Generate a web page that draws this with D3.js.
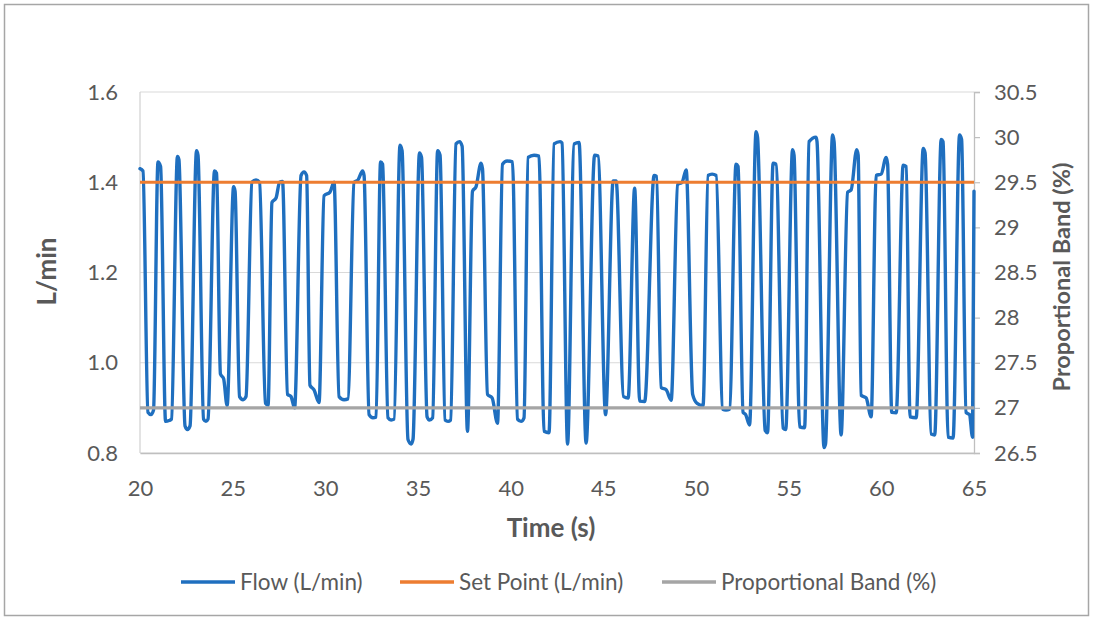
<!DOCTYPE html>
<html>
<head>
<meta charset="utf-8">
<script src="https://cdn.jsdelivr.net/npm/d3@7/dist/d3.min.js"></script>
<style>
  html, body { margin: 0; padding: 0; background: #fff; }
  svg { display: block; }
  text { font-family: Lato, "Open Sans", sans-serif; fill: #595959; }
</style>
</head>
<body>
<svg id="chart" width="1093" height="620"></svg>
<script>
// Flow readings (time in s, flow in L/min)
const flowTime = [
  20.00, 20.16, 20.43, 20.59, 20.73, 20.97, 21.11, 21.38, 21.57, 21.70,
  22.02, 22.10, 22.43, 22.56, 22.70, 23.05, 23.13, 23.43, 23.56, 23.67,
  24.02, 24.13, 24.34, 24.51, 24.70, 25.05, 25.13, 25.37, 25.56, 25.72,
  26.04, 26.26, 26.45, 26.77, 26.91, 27.12, 27.34, 27.53, 27.69, 27.96,
  28.15, 28.34, 28.69, 28.85, 28.99, 29.17, 29.39, 29.66, 29.93, 30.25,
  30.47, 30.74, 31.01, 31.22, 31.55, 31.76, 32.01, 32.09, 32.36, 32.57,
  32.74, 32.98, 33.09, 33.38, 33.55, 33.71, 34.03, 34.14, 34.46, 34.63,
  34.73, 35.08, 35.19, 35.49, 35.62, 35.79, 36.06, 36.19, 36.46, 36.62,
  36.76, 37.05, 37.24, 37.38, 37.67, 37.94, 38.13, 38.40, 38.48, 38.75,
  39.00, 39.29, 39.56, 39.81, 40.10, 40.37, 40.56, 40.72, 40.94, 41.26,
  41.53, 41.80, 42.07, 42.34, 42.67, 42.77, 43.07, 43.42, 43.69, 44.07,
  44.53, 44.72, 45.12, 45.53, 45.69, 46.09, 46.34, 46.69, 46.96, 47.23,
  47.74, 47.87, 48.12, 48.39, 48.66, 49.01, 49.25, 49.47, 49.82, 50.06,
  50.38, 50.65, 50.87, 51.09, 51.44, 51.62, 51.81, 52.16, 52.27, 52.54,
  52.68, 52.89, 53.24, 53.32, 53.73, 53.86, 54.16, 54.32, 54.70, 54.84,
  55.21, 55.29, 55.59, 55.86, 56.10, 56.48, 56.53, 56.91, 56.99, 57.37,
  57.45, 57.83, 58.18, 58.37, 58.67, 58.75, 58.91, 59.18, 59.45, 59.72,
  59.99, 60.26, 60.34, 60.56, 60.80, 61.18, 61.34, 61.55, 61.88, 62.26,
  62.36, 62.69, 62.88, 63.23, 63.33, 63.60, 63.87, 64.22, 64.33, 64.57,
  64.76, 64.92, 65.00
];
const flowValue = [
  1.430, 1.425, 0.890, 0.885, 0.895, 1.445, 1.435, 0.870, 0.872, 0.875,
  1.457, 1.450, 0.860, 0.852, 0.860, 1.470, 1.460, 0.875, 0.870, 0.875,
  1.425, 1.420, 0.975, 0.965, 0.905, 1.390, 1.380, 0.925, 0.918, 0.925,
  1.400, 1.405, 1.400, 0.910, 0.906, 1.355, 1.365, 1.400, 1.402, 0.930,
  0.925, 0.900, 1.415, 1.423, 1.415, 0.950, 0.940, 0.912, 1.370, 1.378,
  1.400, 0.925, 0.918, 0.920, 1.400, 1.405, 1.425, 1.415, 0.885, 0.878,
  0.880, 1.445, 1.440, 0.878, 0.873, 0.875, 1.482, 1.470, 0.830, 0.820,
  0.830, 1.465, 1.455, 0.880, 0.873, 0.878, 1.470, 1.460, 0.873, 0.870,
  0.873, 1.485, 1.490, 1.480, 0.848, 1.380, 1.390, 1.442, 1.430, 0.930,
  0.922, 0.866, 1.440, 1.447, 1.445, 0.875, 0.870, 0.878, 1.455, 1.460,
  1.458, 0.848, 0.845, 1.485, 1.490, 1.487, 0.820, 1.485, 1.488, 0.822,
  1.460, 1.458, 0.885, 1.403, 1.403, 0.925, 0.922, 1.387, 0.915, 0.914,
  1.415, 1.413, 0.945, 0.940, 0.917, 1.395, 1.400, 1.427, 0.930, 0.910,
  0.905, 1.415, 1.418, 1.415, 0.897, 0.895, 0.897, 1.440, 1.435, 0.890,
  0.885, 0.862, 1.512, 1.500, 0.850, 0.845, 1.442, 1.440, 0.855, 0.852,
  1.472, 1.460, 0.858, 0.856, 1.490, 1.500, 1.490, 0.812, 0.820, 1.505,
  1.490, 0.840, 1.378, 1.383, 1.472, 1.460, 0.928, 0.922, 0.880, 1.415,
  1.418, 1.455, 1.440, 0.890, 0.889, 1.438, 1.435, 0.880, 0.878, 1.475,
  1.465, 0.842, 0.840, 1.495, 1.490, 0.835, 0.833, 1.505, 1.495, 0.890,
  0.885, 0.835, 1.380
];

// Constant reference series
const setPointTime = [20, 65];
const setPointValue = [1.4, 1.4];        // L/min, left axis
const bandTime = [20, 65];
const bandValue = [27, 27];              // %, right axis

// Axis ticks
const xTicks = [20, 25, 30, 35, 40, 45, 50, 55, 60, 65];
const leftTicks = [0.8, 1.0, 1.2, 1.4, 1.6];
const rightTicks = [26.5, 27, 27.5, 28, 28.5, 29, 29.5, 30, 30.5];

// Legend entries
const legendLabels = ["Flow (L/min)", "Set Point (L/min)", "Proportional Band (%)"];
const legendColors = ["#1f6fbf", "#ed7d31", "#a5a5a5"];

const svg = d3.select("#chart");
const W = 1093, H = 620;
const plot = { left: 140, right: 974, top: 92, bottom: 453 };
const tickFont = "22px";

// Outer chart frame
svg.append("rect")
  .attr("x", 4.5).attr("y", 4.5)
  .attr("width", W - 9).attr("height", H - 9)
  .attr("fill", "#fff").attr("stroke", "#a6a6a6").attr("stroke-width", 1.5);

const x = d3.scaleLinear().domain([20, 65]).range([plot.left, plot.right]);
const yL = d3.scaleLinear().domain([0.8, 1.6]).range([plot.bottom, plot.top]);
const yR = d3.scaleLinear().domain([26.5, 30.5]).range([plot.bottom, plot.top]);

// Horizontal gridlines
svg.append("g")
  .selectAll("line")
  .data(leftTicks)
  .join("line")
  .attr("x1", plot.left).attr("x2", plot.right)
  .attr("y1", d => yL(d)).attr("y2", d => yL(d))
  .attr("stroke", "#d9d9d9").attr("stroke-width", 1.2);

// Left axis line
svg.append("line")
  .attr("x1", plot.left).attr("x2", plot.left)
  .attr("y1", plot.top).attr("y2", plot.bottom)
  .attr("stroke", "#d0d0d0").attr("stroke-width", 1.2);

// Bottom axis
const xAxis = svg.append("g")
  .attr("transform", `translate(0,${plot.bottom})`)
  .call(d3.axisBottom(x).tickValues(xTicks).tickSize(0).tickPadding(27).tickFormat(d3.format("d")));
xAxis.select(".domain").attr("stroke", "#bfbfbf").attr("stroke-width", 1.3);
xAxis.selectAll("text").style("font-size", tickFont).attr("fill", "#595959")
  .style("font-family", "Lato, 'Open Sans', sans-serif");

// Left axis labels
const yAxisL = svg.append("g")
  .attr("transform", `translate(${plot.left},0)`)
  .call(d3.axisLeft(yL).tickValues(leftTicks).tickSize(0).tickPadding(22).tickFormat(d3.format(".1f")));
yAxisL.select(".domain").remove();
yAxisL.selectAll("text").style("font-size", tickFont).attr("fill", "#595959")
  .style("font-family", "Lato, 'Open Sans', sans-serif");

// Right axis with outward ticks
const yAxisR = svg.append("g")
  .attr("transform", `translate(${plot.right},0)`)
  .call(d3.axisRight(yR).tickValues(rightTicks).tickSize(6).tickPadding(14).tickFormat(d => String(d)));
yAxisR.select(".domain").attr("stroke", "#bfbfbf").attr("stroke-width", 1.3);
yAxisR.selectAll(".tick line").attr("stroke", "#bfbfbf").attr("stroke-width", 1.2);
yAxisR.selectAll("text").style("font-size", tickFont).attr("fill", "#595959")
  .style("font-family", "Lato, 'Open Sans', sans-serif");

// Series
const flowData = flowTime.map((t, i) => [t, flowValue[i]]);
const lineL = d3.line().x(d => x(d[0])).y(d => yL(d[1])).curve(d3.curveMonotoneX);
const lineR = d3.line().x(d => x(d[0])).y(d => yR(d[1]));

svg.append("path")
  .datum(flowData)
  .attr("d", lineL)
  .attr("fill", "none")
  .attr("stroke", legendColors[0])
  .attr("stroke-width", 3.4)
  .attr("stroke-linejoin", "round")
  .attr("stroke-linecap", "round");

svg.append("path")
  .datum(setPointTime.map((t, i) => [t, setPointValue[i]]))
  .attr("d", lineL)
  .attr("fill", "none")
  .attr("stroke", legendColors[1])
  .attr("stroke-width", 3.2);

svg.append("path")
  .datum(bandTime.map((t, i) => [t, bandValue[i]]))
  .attr("d", lineR)
  .attr("fill", "none")
  .attr("stroke", legendColors[2])
  .attr("stroke-width", 3.2);

// Axis titles
svg.append("text")
  .attr("transform", `translate(56,${(plot.top + plot.bottom) / 2 - 1}) rotate(-90)`)
  .attr("text-anchor", "middle")
  .style("font-size", "26px").style("font-weight", "bold")
  .text("L/min");

svg.append("text")
  .attr("x", 551).attr("y", 537)
  .attr("text-anchor", "middle")
  .style("font-size", "26px").style("font-weight", "bold")
  .text("Time (s)");

svg.append("text")
  .attr("transform", `translate(1070,277) rotate(-90)`)
  .attr("text-anchor", "middle")
  .style("font-size", "23.5px").style("font-weight", "bold")
  .text("Proportional Band (%)");

// Legend
const legendX = [181, 400, 662];
const legend = svg.append("g");
legendLabels.forEach((label, i) => {
  legend.append("line")
    .attr("x1", legendX[i]).attr("x2", legendX[i] + 54)
    .attr("y1", 582).attr("y2", 582)
    .attr("stroke", legendColors[i]).attr("stroke-width", 3.4);
  legend.append("text")
    .attr("x", legendX[i] + 59).attr("y", 590)
    .style("font-size", "22.5px")
    .text(label);
});
</script>
</body>
</html>
